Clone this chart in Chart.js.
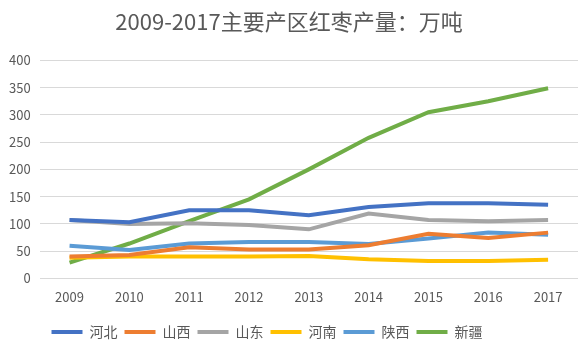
<!DOCTYPE html>
<html>
<head>
<meta charset="utf-8">
<script src="https://cdn.jsdelivr.net/npm/chart.js@4.4.1/dist/chart.umd.min.js"></script>
<style>
  html, body { margin: 0; padding: 0; background: #fff; }
  #wrap { width: 583px; height: 344px; }
</style>
</head>
<body>
<div id="wrap"><canvas id="jujube-chart"></canvas></div>
<script>
const years = ['2009', '2010', '2011', '2012', '2013', '2014', '2015', '2016', '2017'];
const regions = ['河北', '山西', '山东', '河南', '陕西', '新疆'];
const hebei    = [107, 103, 125, 125, 116, 131, 138, 138, 135];
const shanxi   = [40, 43, 57, 53, 53, 61, 82, 74, 84];
const shandong = [107, 100, 101, 98, 90, 119, 107, 105, 107];
const henan    = [38, 40, 40, 40, 41, 35, 32, 32, 34];
const shaanxi  = [60, 52, 64, 67, 67, 63, 73, 84, 80];
const xinjiang = [29, 64, 105, 145, 200, 258, 305, 325, 349];
const yTicks = [0, 50, 100, 150, 200, 250, 300, 350, 400];

const seriesValues = [hebei, shanxi, shandong, henan, shaanxi, xinjiang];
const colors = ['#4472C4', '#ED7D31', '#A5A5A5', '#FFC000', '#5B9BD5', '#70AD47'];
const FONT = "'Noto Sans CJK SC', 'Noto Sans', sans-serif";

// move the legend row left and a little lower
const legendShift = {
    id: 'legendShift',
    afterLayout(chart) {
        const lg = chart.legend;
        if (!lg) return;
        lg.left -= 22; lg.right -= 22;
        lg.top += 10; lg.bottom += 10;
    }
};

const ctx = document.getElementById('jujube-chart').getContext('2d');
const chart = new Chart(ctx, {
    type: 'line',
    data: {
        labels: years,
        datasets: regions.map((name, i) => ({
            label: name,
            data: seriesValues[i],
            borderColor: colors[i],
            backgroundColor: colors[i],
            borderWidth: 4,
            pointRadius: 0,
            tension: 0,
            fill: false
        }))
    },
    options: {
        animation: false,
        responsive: true,
        maintainAspectRatio: false,
        layout: { padding: { left: 0, right: 5, top: 8, bottom: 5 } },
        scales: {
            x: {
                offset: true,
                grid: { display: false },
                border: { display: false },
                ticks: { color: '#595959', font: { family: FONT, size: 13 }, padding: 3, maxRotation: 0 }
            },
            y: {
                min: 0,
                max: 400,
                afterBuildTicks: axis => { axis.ticks = yTicks.map(v => ({ value: v })); },
                grid: { color: '#D9D9D9', lineWidth: 1, drawTicks: false },
                border: { display: false },
                ticks: { color: '#595959', font: { family: FONT, size: 13 }, padding: 9 }
            }
        },
        plugins: {
            title: {
                display: true,
                text: '2009-2017主要产区红枣产量：万吨',
                color: '#595959',
                font: { family: FONT, size: 22, weight: 'normal' },
                padding: { top: 0, bottom: 26 }
            },
            legend: {
                position: 'bottom',
                labels: {
                    color: '#595959',
                    font: { family: FONT, size: 14 },
                    boxWidth: 31,
                    boxHeight: 4,
                    padding: 7,
                    generateLabels: c => Chart.defaults.plugins.legend.labels.generateLabels(c)
                        .map(item => Object.assign(item, { lineWidth: 0 }))
                }
            },
            tooltip: { enabled: false }
        }
    },
    plugins: [legendShift]
});
</script>
</body>
</html>
